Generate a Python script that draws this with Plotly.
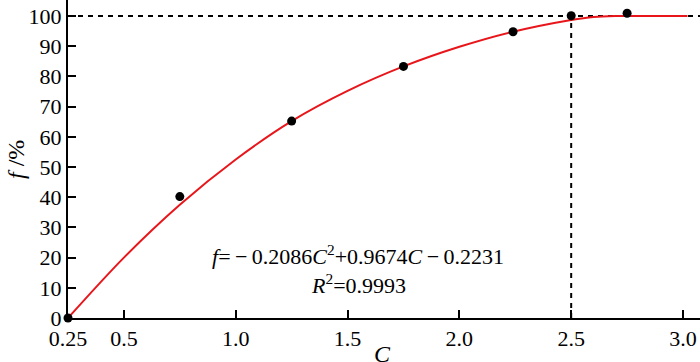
import plotly.graph_objects as go

# measured data points
data_c = [0.25, 0.75, 1.25, 1.75, 2.24, 2.5, 2.75]
data_f = [0.0, 40.2, 65.2, 83.3, 94.8, 100.1, 100.9]

# fitted curve
curve_c = [0.25, 0.5, 0.75, 1.0, 1.25, 1.5, 1.75, 2.0, 2.24, 2.5, 2.6, 2.7, 2.85, 3.02]
curve_f = [0.0, 20.0, 37.5, 52.5, 65.2, 75.2, 83.3, 89.8, 94.8, 98.7, 99.7, 100.0, 100.0, 100.0]

# reference lines
ref_f = 100
ref_c = 2.5

x_tickvals = [0.25, 0.5, 1.0, 1.5, 2.0, 2.5, 3.0]
x_ticktext = ["0.25", "0.5", "1.0", "1.5", "2.0", "2.5", "3.0"]
y_tickvals = [0, 10, 20, 30, 40, 50, 60, 70, 80, 90, 100]

x_range = [0.25, 3.076]
y_range = [0, 105.3]

FONT = "Liberation Serif"
FS = 22

fig = go.Figure()

dash_style = dict(color="black", width=2, dash="5px,5px")
fig.add_trace(go.Scatter(x=[x_range[0], x_range[1]], y=[ref_f, ref_f], mode="lines",
                         line=dash_style, hoverinfo="skip", showlegend=False))
fig.add_trace(go.Scatter(x=[ref_c, ref_c], y=[0, ref_f], mode="lines",
                         line=dash_style, hoverinfo="skip", showlegend=False))

fig.add_trace(go.Scatter(x=curve_c, y=curve_f, mode="lines",
                         line=dict(color="#e8161b", width=2, shape="spline", smoothing=0.9),
                         showlegend=False))
fig.add_trace(go.Scatter(x=data_c, y=data_f, mode="markers",
                         marker=dict(color="black", size=9),
                         cliponaxis=False, showlegend=False))

axis_common = dict(showgrid=False, zeroline=False, showline=True, linecolor="black", linewidth=2,
                   ticks="inside", ticklen=8, tickwidth=2, tickcolor="black",
                   tickfont=dict(family=FONT, size=FS, color="black"))

MINUS = "\u2009\u2212\u2009"

fig.update_layout(
    width=700, height=362,
    margin=dict(l=68, r=0, t=0, b=44),
    paper_bgcolor="white", plot_bgcolor="white",
    font=dict(family=FONT, size=FS, color="black"),
    xaxis=dict(range=x_range, tickvals=x_tickvals, ticktext=x_ticktext, **axis_common),
    yaxis=dict(range=y_range, tickvals=y_tickvals, **axis_common),
    annotations=[
        dict(text="<i>f</i>=" + MINUS + "0.2086<i>C</i><sup>2</sup>+0.9674<i>C</i>" + MINUS + "0.2231",
             x=1.547, y=21.0, xref="x", yref="y", showarrow=False,
             font=dict(family=FONT, size=FS)),
        dict(text="<i>R</i><sup>2</sup>=0.9993",
             x=1.547, y=11.3, xref="x", yref="y", showarrow=False,
             font=dict(family=FONT, size=FS)),
        dict(text="<i>f</i> /%", x=(16 - 68) / 632, y=(318 - 160) / 318,
             xref="paper", yref="paper", xanchor="center", yanchor="middle",
             showarrow=False, textangle=-90, font=dict(family=FONT, size=24)),
        dict(text="<i>C</i>", x=(382 - 68) / 632, y=-(354 - 318) / 318,
             xref="paper", yref="paper", xanchor="center", yanchor="middle",
             showarrow=False, font=dict(family=FONT, size=24)),
    ],
)

fig.write_html("out.html", config={"displayModeBar": False},
               post_script="document.body.style.margin='0px';")
